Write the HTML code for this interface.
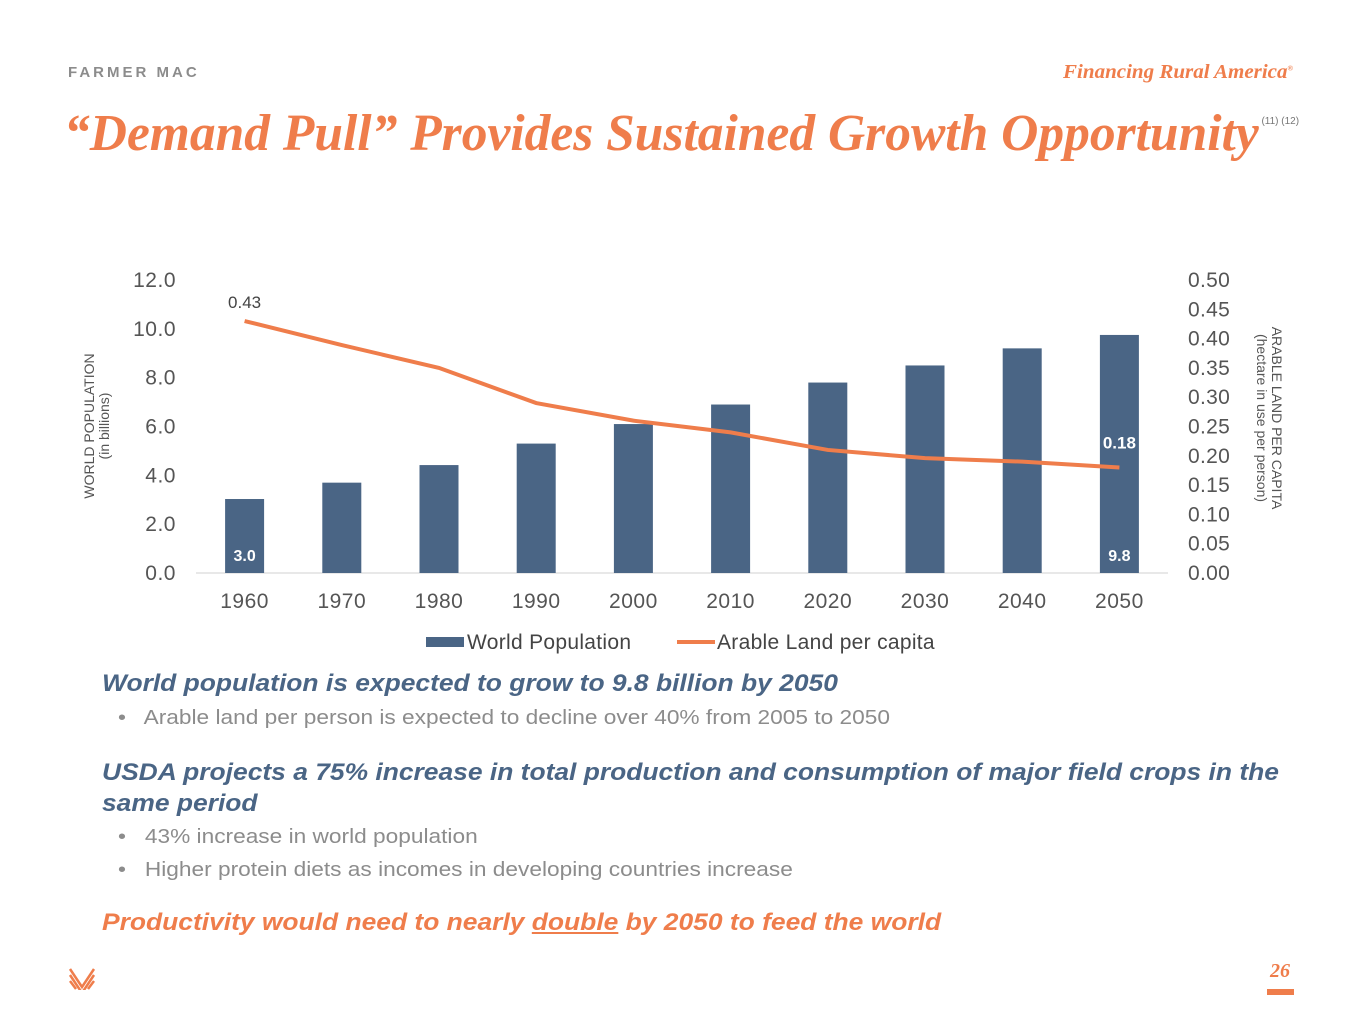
<!DOCTYPE html>
<html><head><meta charset="utf-8"><style>
body{margin:0;width:1365px;height:1024px;background:#fff;position:relative;overflow:hidden;font-family:"Liberation Sans",sans-serif}
.abs{position:absolute}
.sx{transform-origin:0 0;white-space:nowrap}
</style></head><body>
<div class="abs" style="left:68px;top:64px;font-size:15px;font-weight:bold;letter-spacing:3px;color:#8c8c8c">FARMER MAC</div>
<div class="abs" style="right:72px;top:61px;font-family:'Liberation Serif',serif;font-style:italic;font-weight:bold;font-size:20px;color:#ef7d4b;transform:scaleX(1.05);transform-origin:100% 0">Financing Rural America<sup style="font-size:7px">®</sup></div>
<div class="abs" style="left:64px;top:104px;font-family:'Liberation Serif',serif;font-style:italic;font-weight:bold;font-size:51.5px;color:#ef7d4b;white-space:nowrap">“Demand Pull” Provides Sustained Growth Opportunity<span style="font-size:10px;font-style:normal;font-weight:normal;color:#777;vertical-align:top;position:relative;top:12px;font-family:'Liberation Sans',sans-serif"> (11) (12)</span></div>
<svg class="abs" style="left:0;top:0" width="1365" height="1024" id="chart"></svg>
<div class="abs sx" style="left:102px;top:670px;font-size:24px;font-weight:bold;font-style:italic;color:#4a6585;transform:scaleX(1.1)">World population is expected to grow to 9.8 billion by 2050</div>
<div class="abs sx" style="left:118px;top:707px;font-size:20px;color:#8c8c8c;transform:scaleX(1.134)">•&nbsp;&nbsp; Arable land per person is expected to decline over 40% from 2005 to 2050</div>
<div class="abs sx" style="left:102px;top:757px;font-size:24px;line-height:31px;font-weight:bold;font-style:italic;color:#4a6585;transform:scaleX(1.1)">USDA projects a 75% increase in total production and consumption of major field crops in the<br>same period</div>
<div class="abs sx" style="left:118px;top:826px;font-size:20px;color:#8c8c8c;transform:scaleX(1.134)">•&nbsp;&nbsp; 43% increase in world population</div>
<div class="abs sx" style="left:118px;top:859px;font-size:20px;color:#8c8c8c;transform:scaleX(1.134)">•&nbsp;&nbsp; Higher protein diets as incomes in developing countries increase</div>
<div class="abs sx" style="left:102px;top:909px;font-size:24px;font-weight:bold;font-style:italic;color:#ef7d4b;transform:scaleX(1.1)">Productivity would need to nearly <u>double</u> by 2050 to feed the world</div>
<svg class="abs" style="left:68px;top:966px" width="28" height="24"><path d="M2 3 L14 21 L26 3 M2 9 L14 27 M26 9 L14 27 M2 15 L8 23 M26 15 L20 23" stroke="#ef7d4b" stroke-width="2.5" fill="none"/></svg>
<div class="abs" style="left:1270px;top:960px;font-family:'Liberation Serif',serif;font-style:italic;font-weight:bold;font-size:20px;color:#ef7d4b">26</div>
<div class="abs" style="left:1267px;top:989px;width:27px;height:6px;background:#ef7d4b"></div>
<script>
const years=['1960','1970','1980','1990','2000','2010','2020','2030','2040','2050'];
const population=[3.03,3.7,4.42,5.3,6.1,6.9,7.8,8.5,9.2,9.75];
const arable=[0.43,0.389,0.35,0.29,0.26,0.24,0.21,0.196,0.19,0.18];
const leftTicks=['0.0','2.0','4.0','6.0','8.0','10.0','12.0'];
const rightTicks=['0.00','0.05','0.10','0.15','0.20','0.25','0.30','0.35','0.40','0.45','0.50'];
const svg=document.getElementById('chart');const NS='http://www.w3.org/2000/svg';
const X0=196,X1=1168,Y0=573,Y1=280;
const step=(X1-X0)/years.length;
const xc=i=>X0+step*(i+0.5);
const yL=v=>Y0-(v/12)*(Y0-Y1);
const yR=v=>Y0-(v/0.5)*(Y0-Y1);
function mk(t,a,txt){const e=document.createElementNS(NS,t);for(const k in a)e.setAttribute(k,a[k]);if(txt!==undefined)e.textContent=txt;svg.appendChild(e);return e;}
leftTicks.forEach(t=>{const e=mk('text',{x:176,y:yL(+t)+7,'text-anchor':'end','font-size':21,'letter-spacing':0.5,fill:'#555'},t);

});
rightTicks.forEach(t=>{const e=mk('text',{x:1188,y:yR(+t)+7,'font-size':21,'letter-spacing':0.3,fill:'#555'},t);

});
const ax=mk('line',{x1:X0,x2:X1,y1:Y0,y2:Y0,stroke:'#d0d0d0','stroke-width':1});


population.forEach((v,i)=>{const b=mk('rect',{x:xc(i)-19.5,y:yL(v),width:39,height:Y0-yL(v),fill:'#4a6585'});

});
years.forEach((y,i)=>{const e=mk('text',{x:xc(i),y:608,'text-anchor':'middle','font-size':21,'letter-spacing':0.5,fill:'#555'},y);

});
const pl=mk('polyline',{points:arable.map((v,i)=>xc(i)+','+yR(v)).join(' '),fill:'none',stroke:'#ef7d4b','stroke-width':4});


const l1=mk('text',{x:xc(0),y:yL(0)-12,'text-anchor':'middle','font-size':16,'font-weight':'bold',fill:'#fff'},population[0].toFixed(1));


const l2=mk('text',{x:xc(9),y:yL(0)-12,'text-anchor':'middle','font-size':16,'font-weight':'bold',fill:'#fff'},'9.8');


const l3=mk('text',{x:xc(0),y:yR(arable[0])-13,'text-anchor':'middle','font-size':17,fill:'#444'},arable[0].toFixed(2));


const l4=mk('text',{x:xc(9),y:yR(arable[9])-19,'text-anchor':'middle','font-size':17,'font-weight':'bold',fill:'#fff'},arable[9].toFixed(2));


const yt=mk('text',{transform:'translate(94,426) rotate(-90)','text-anchor':'middle','font-size':14,fill:'#555'});


yt.innerHTML='<tspan x="0" y="0">WORLD POPULATION</tspan><tspan x="0" y="15">(in billions)</tspan>';
const yt2=mk('text',{transform:'translate(1272,418) rotate(90)','text-anchor':'middle','font-size':14,fill:'#555'});


yt2.innerHTML='<tspan x="0" y="0">ARABLE LAND PER CAPITA</tspan><tspan x="0" y="15">(hectare in use per person)</tspan>';
const lg1=mk('rect',{x:426,y:637,width:38,height:10,fill:'#4a6585'});


const lt1=mk('text',{x:467,y:649,'font-size':21,'letter-spacing':0.3,fill:'#444'},'World Population');


const lg2=mk('line',{x1:677,x2:715,y1:642,y2:642,stroke:'#ef7d4b','stroke-width':4});


const lt2=mk('text',{x:717,y:649,'font-size':21,'letter-spacing':0.3,fill:'#444'},'Arable Land per capita');


</script>
</body></html>
